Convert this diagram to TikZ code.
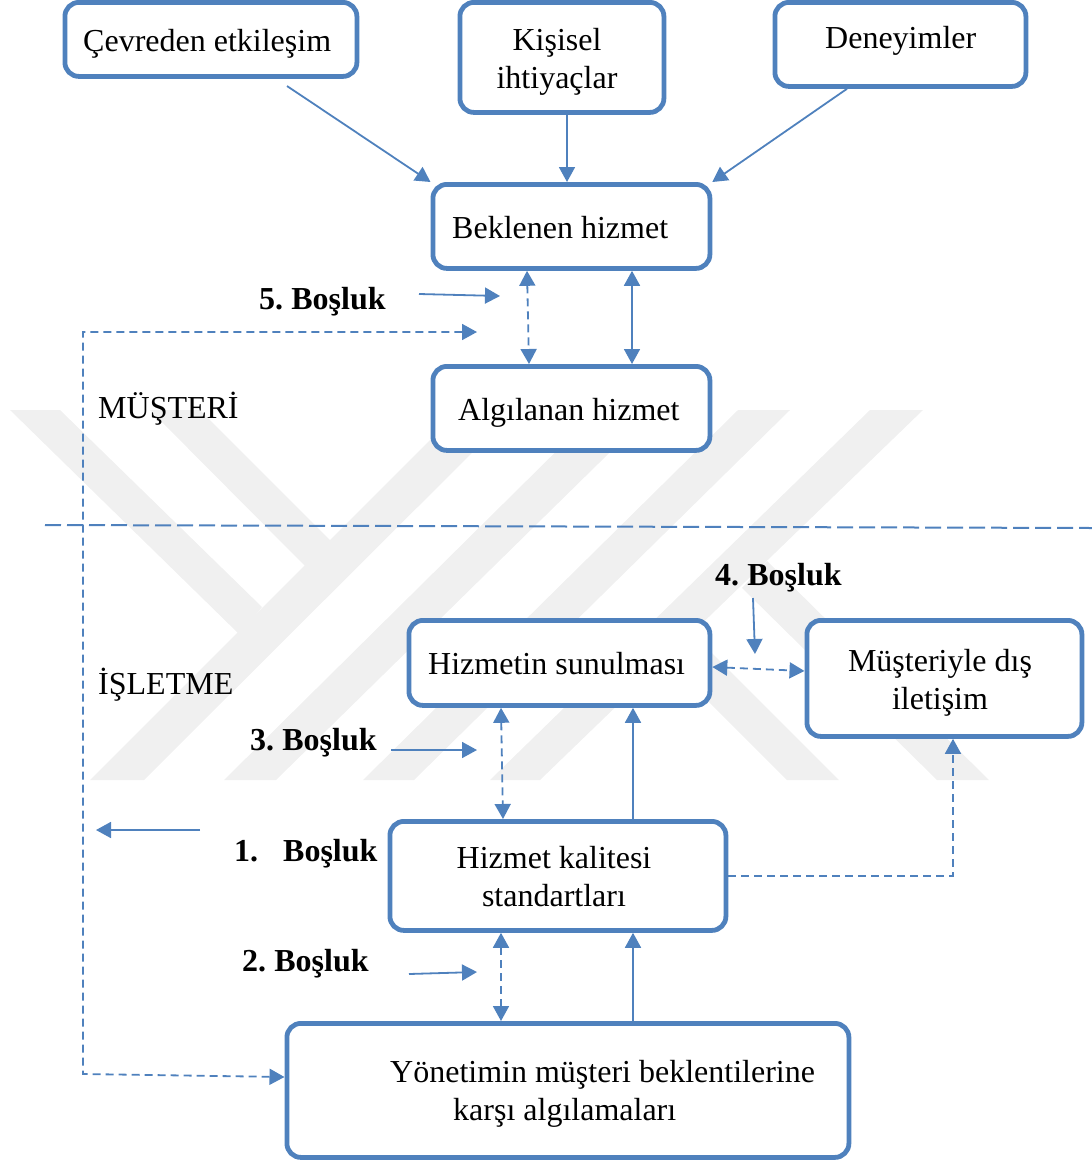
\documentclass[tikz,border=0pt]{standalone}
\usepackage{fontspec}
\setmainfont{Liberation Serif}
\usetikzlibrary{arrows.meta,calc}
\definecolor{blu}{HTML}{4F81BD}
\definecolor{wm}{HTML}{F0F0F0}
\tikzset{
  box/.style={draw=blu,line width=4.8pt,rounded corners=14pt,fill=white,inner sep=0pt,anchor=north west},
  txt/.style={inner sep=0pt,anchor=base west,font=\fontsize{32}{38}\selectfont,text=black},
  txtc/.style={inner sep=0pt,anchor=base,font=\fontsize{32}{38}\selectfont,text=black},
  btxt/.style={txt,font=\fontsize{32}{38}\selectfont\bfseries},
  conn/.style={draw=blu,line width=1.8pt},
  ar/.style={conn,-{Triangle[length=15pt,width=16pt]}},
  arb/.style={conn,{Triangle[length=15pt,width=16pt]}-{Triangle[length=15pt,width=16pt]}},
  dsh/.style={dash pattern=on 8pt off 5pt},
  wmark/.style={fill=wm,draw=none},
}
\newcommand{\gapword}[1]{#1.\kern-2.5pt{} Boşluk}
\begin{document}
\begin{tikzpicture}[x=1pt,y=-1pt]
\useasboundingbox (0,0) rectangle (1092,1160);
% watermark
\fill[wmark] (90,780)--(144,780)--(515,410)--(460,410)--cycle;
\fill[wmark] (224,780)--(276,780)--(653,410)--(598,410)--cycle;
\fill[wmark] (363,780)--(414,780)--(790,410)--(738,410)--cycle;
\fill[wmark] (490,780)--(540,780)--(923,410)--(870,410)--cycle;
\fill[wmark] (10,410)--(60,410)--(262,607)--(240,635)--cycle;
\fill[wmark] (150,410)--(200,410)--(333,543)--(307,568)--cycle;
\fill[wmark] (787,780)--(839,780)--(699,640)--(647,640)--cycle;
\fill[wmark] (937,780)--(989,780)--(767,561)--(742,588)--cycle;
% boxes
\node[box,minimum width=292pt,minimum height=74pt] (cevre) at (62.5,0) {};
\node[box,minimum width=204pt,minimum height=110pt] (kisi) at (457.5,0) {};
\node[box,minimum width=251pt,minimum height=84pt] (deney) at (772.5,0) {};
\node[box,minimum width=277pt,minimum height=84pt] (bekl) at (430.5,182) {};
\node[box,minimum width=277pt,minimum height=84pt] (algi) at (430.5,364) {};
\node[box,minimum width=301pt,minimum height=85pt] (sunum) at (406.5,618) {};
\node[box,minimum width=275pt,minimum height=116pt] (dis) at (804.5,618) {};
\node[box,minimum width=336pt,minimum height=109pt] (kalite) at (387.5,819) {};
\node[box,minimum width=562pt,minimum height=134pt] (yonet) at (284.5,1021) {};
% texts
\node[txt] (t1) at (83,51) {Çevreden etkileşim};
\node[txtc] (t2a) at (557,50) {Kişisel};
\node[txtc] (t2b) at (557,88) {ihtiyaçlar};
\node[txt] (t3) at (825,48) {Deneyimler};
\node[txt] (t4) at (452,238) {Beklenen hizmet};
\node[txt] (t5) at (458,420) {Algılanan hizmet};
\node[btxt] (g5) at (259,309) {\gapword{5}};
\node[txt] (musteri) at (98,418) {MÜŞTERİ};
\node[btxt] (g4) at (715,585) {\gapword{4}};
\node[txt] (t6) at (428,674) {Hizmetin sunulması};
\node[txtc] (t7a) at (940,671) {Müşteriyle dış};
\node[txtc] (t7b) at (940,709) {iletişim};
\node[txt] (isletme) at (98,694) {İŞLETME};
\node[btxt] (g3) at (250,750) {\gapword{3}};
\node[btxt] (g1a) at (234,861) {1.};
\node[btxt] (g1b) at (283,861) {Boşluk};
\node[txtc] (t8a) at (554,868) {Hizmet kalitesi};
\node[txtc] (t8b) at (554,906) {standartları};
\node[btxt] (g2) at (242,971) {\gapword{2}};
\node[txt] (t9a) at (390,1082) {Yönetimin müşteri beklentilerine};
\node[txt] (t9b) at (453,1120) {karşı algılamaları};
% free ends
\coordinate (a1) at (287,86);
\coordinate (a5s) at (419,294); \coordinate (a5e) at (500,296);
\coordinate (loopEnd) at (477,332); \coordinate (loopA) at (83,332); \coordinate (loopB) at (83,1074);
\coordinate (divA) at (45,525); \coordinate (divB) at (1092,528);
\coordinate (a4s) at (753,598); \coordinate (a4e) at (755,654);
\coordinate (a3s) at (391,750); \coordinate (a3e) at (477,750);
\coordinate (a1s) at (200,830); \coordinate (a1e) at (96,830);
\coordinate (a2s) at (409,974); \coordinate (a2e) at (477,972);
% connectors
\draw[ar] (a1) -- (bekl.north west);
\draw[ar] (kisi.south -| 567,0) -- (bekl.north -| 567,0);
\draw[ar] (deney.south -| 847,0) -- (bekl.north east);
\draw[ar] (a5s) -- (a5e);
\draw[arb,dsh] (loopEnd) -- (loopA) -- (loopB) -- (yonet.west |- 0,1077);
\draw[arb,dsh] (bekl.south -| 527,0) -- (algi.north -| 529,0);
\draw[arb] (bekl.south -| 632,0) -- (algi.north -| 632,0);
\draw[conn,line width=2pt,dash pattern=on 16pt off 6pt] (divA) -- (divB);
\draw[ar] (a4s) -- (a4e);
\draw[arb,dsh] (sunum.east |- 0,667) -- (dis.west |- 0,671);
\draw[ar,dsh] (kalite.east |- 0,876) -- (953,876) -- (dis.south -| 953,0);
\draw[ar] (a3s) -- (a3e);
\draw[arb,dsh] (sunum.south -| 501,0) -- (kalite.north -| 503,0);
\draw[ar] (kalite.north -| 633,0) -- (sunum.south -| 633,0);
\draw[ar] (a1s) -- (a1e);
\draw[ar] (a2s) -- (a2e);
\draw[arb,dsh] (kalite.south -| 501,0) -- (yonet.north -| 501,0);
\draw[ar] (yonet.north -| 633,0) -- (kalite.south -| 633,0);
\end{tikzpicture}
\end{document}
